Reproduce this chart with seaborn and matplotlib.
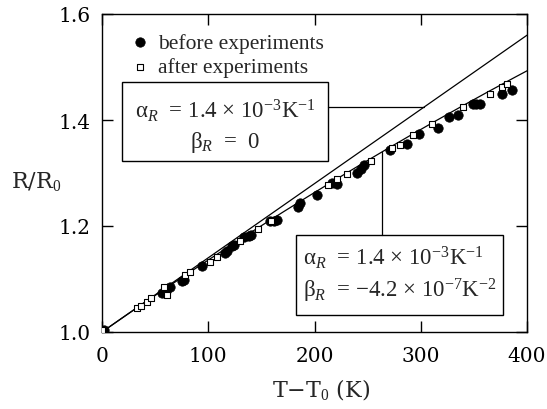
import numpy as np
import pandas as pd
import matplotlib
matplotlib.use("Agg")
import matplotlib.pyplot as plt
import seaborn as sns
from matplotlib.patches import Rectangle

# Measured resistance ratio before the experiments (filled circles)
before_T = [2, 56, 60, 64, 75, 77, 94, 116, 118, 122, 124, 134, 138, 140,
            158, 162, 165, 184, 186, 202, 216, 221, 240, 244, 247, 271, 287,
            298, 316, 327, 335, 349, 352, 356, 376, 386]
before_R = [1.003, 1.073, 1.078, 1.084, 1.096, 1.099, 1.124, 1.150, 1.153,
            1.163, 1.165, 1.179, 1.181, 1.183, 1.209, 1.210, 1.212, 1.236,
            1.244, 1.258, 1.281, 1.280, 1.300, 1.308, 1.315, 1.343, 1.355,
            1.373, 1.385, 1.406, 1.410, 1.430, 1.431, 1.431, 1.449, 1.457]

# Measured resistance ratio after the experiments (open squares)
after_T = [0, 33, 37, 42, 46, 58, 61, 78, 83, 102, 108, 130, 147, 159, 213,
           221, 231, 253, 273, 280, 293, 311, 340, 365, 376, 381]
after_R = [1.003, 1.045, 1.049, 1.057, 1.064, 1.085, 1.070, 1.107, 1.113,
           1.133, 1.141, 1.171, 1.194, 1.209, 1.277, 1.288, 1.299, 1.322,
           1.347, 1.352, 1.371, 1.393, 1.424, 1.449, 1.462, 1.468]

# Temperature coefficients of the two model curves
alpha_R = 1.4e-3
beta_linear = 0.0
beta_quad = -4.2e-7

x_ticks = [0, 100, 200, 300, 400]
y_ticks = [1.0, 1.2, 1.4, 1.6]

sns.set_style("ticks")
plt.rcParams.update({
    "font.family": ["DejaVu Serif"],
    "mathtext.fontset": "custom",
    "mathtext.rm": "Liberation Serif",
    "mathtext.it": "Liberation Serif:italic",
    "mathtext.bf": "Liberation Serif:bold",
    "axes.linewidth": 1.0,
    "axes.edgecolor": "black",
})

fig = plt.figure(figsize=(5.47, 4.10), dpi=100)
ax = fig.add_axes([102 / 547, 77 / 410, 425 / 547, 318 / 410])

T_line = np.linspace(0, 400, 401)
curves = pd.DataFrame({
    "T": T_line,
    "linear": 1 + alpha_R * T_line + beta_linear * T_line ** 2,
    "quad": 1 + alpha_R * T_line + beta_quad * T_line ** 2,
})
sns.lineplot(data=curves, x="T", y="linear", color="black", lw=0.9, ax=ax)
sns.lineplot(data=curves, x="T", y="quad", color="black", lw=0.9, ax=ax)

sns.scatterplot(x=before_T, y=before_R, marker="o", s=46, color="black",
                edgecolor="black", linewidth=0.5, label="before experiments",
                ax=ax, zorder=3)
sns.scatterplot(x=after_T, y=after_R, marker="s", s=22, color="white",
                edgecolor="black", linewidth=0.8, label="after experiments",
                ax=ax, zorder=4)

ax.set_xlim(0, 400)
ax.set_ylim(1.0, 1.6)
ax.set_xticks(x_ticks)
ax.set_yticks(y_ticks)
ax.set_xticklabels([f"{t:d}" for t in x_ticks])
ax.set_yticklabels([f"{t:.1f}" for t in y_ticks])
ax.tick_params(direction="in", length=8, width=1.0, labelsize=14.5,
               top=True, right=True, colors="black")
ax.tick_params(axis="x", pad=10)
ax.tick_params(axis="y", pad=8)

ax.set_xlabel("T−T$_0$ (K)", fontsize=16, va="center")
ax.xaxis.set_label_coords(0.515, -0.178)
ax.set_ylabel("R/R$_0$", fontsize=16, rotation=0, ha="center", va="center")
ax.yaxis.set_label_coords(-0.155, 0.475)

leg = ax.legend(loc="upper left", bbox_to_anchor=(0.069, 0.940), frameon=False,
                prop={"family": "Liberation Serif", "size": 15.5},
                handlelength=0.8, handletextpad=0.45, labelspacing=0.19,
                borderaxespad=0, borderpad=0)

# Annotation boxes with the coefficients
box_kw = dict(transform=ax.transAxes, fill=False, edgecolor="black", lw=1.0,
              zorder=5)
ax.add_patch(Rectangle((0.047, 0.538), 0.485, 0.248, **box_kw))
ax.add_patch(Rectangle((0.456, 0.053), 0.488, 0.252, **box_kw))

txt_kw = dict(transform=ax.transAxes, family="Liberation Serif", fontsize=16.5,
              va="center", zorder=6)
ax.text(0.2895, 0.70, "α$_R$  = 1.4 × 10$^{-3}$K$^{-1}$", ha="center", **txt_kw)
ax.text(0.2895, 0.60, "β$_R$  =  0", ha="center", **txt_kw)
ax.text(0.472, 0.238, "α$_R$  = 1.4 × 10$^{-3}$K$^{-1}$", ha="left", **txt_kw)
ax.text(0.472, 0.132, "β$_R$  = −4.2 × 10$^{-7}$K$^{-2}$", ha="left", **txt_kw)

# Leader lines from the boxes to their curves
y_lead = 1.0 + 0.7075 * 0.6
T_box1 = 0.532 * 400
T_hit1 = (y_lead - 1.0) / alpha_R
ax.plot([T_box1, T_hit1], [y_lead, y_lead], color="black", lw=0.9, zorder=2)
T_lead2 = 263.5
ax.plot([T_lead2, T_lead2],
        [1.0 + 0.305 * 0.6, 1 + alpha_R * T_lead2 + beta_quad * T_lead2 ** 2],
        color="black", lw=0.9, zorder=2)

fig.savefig("out.png", dpi=100)
